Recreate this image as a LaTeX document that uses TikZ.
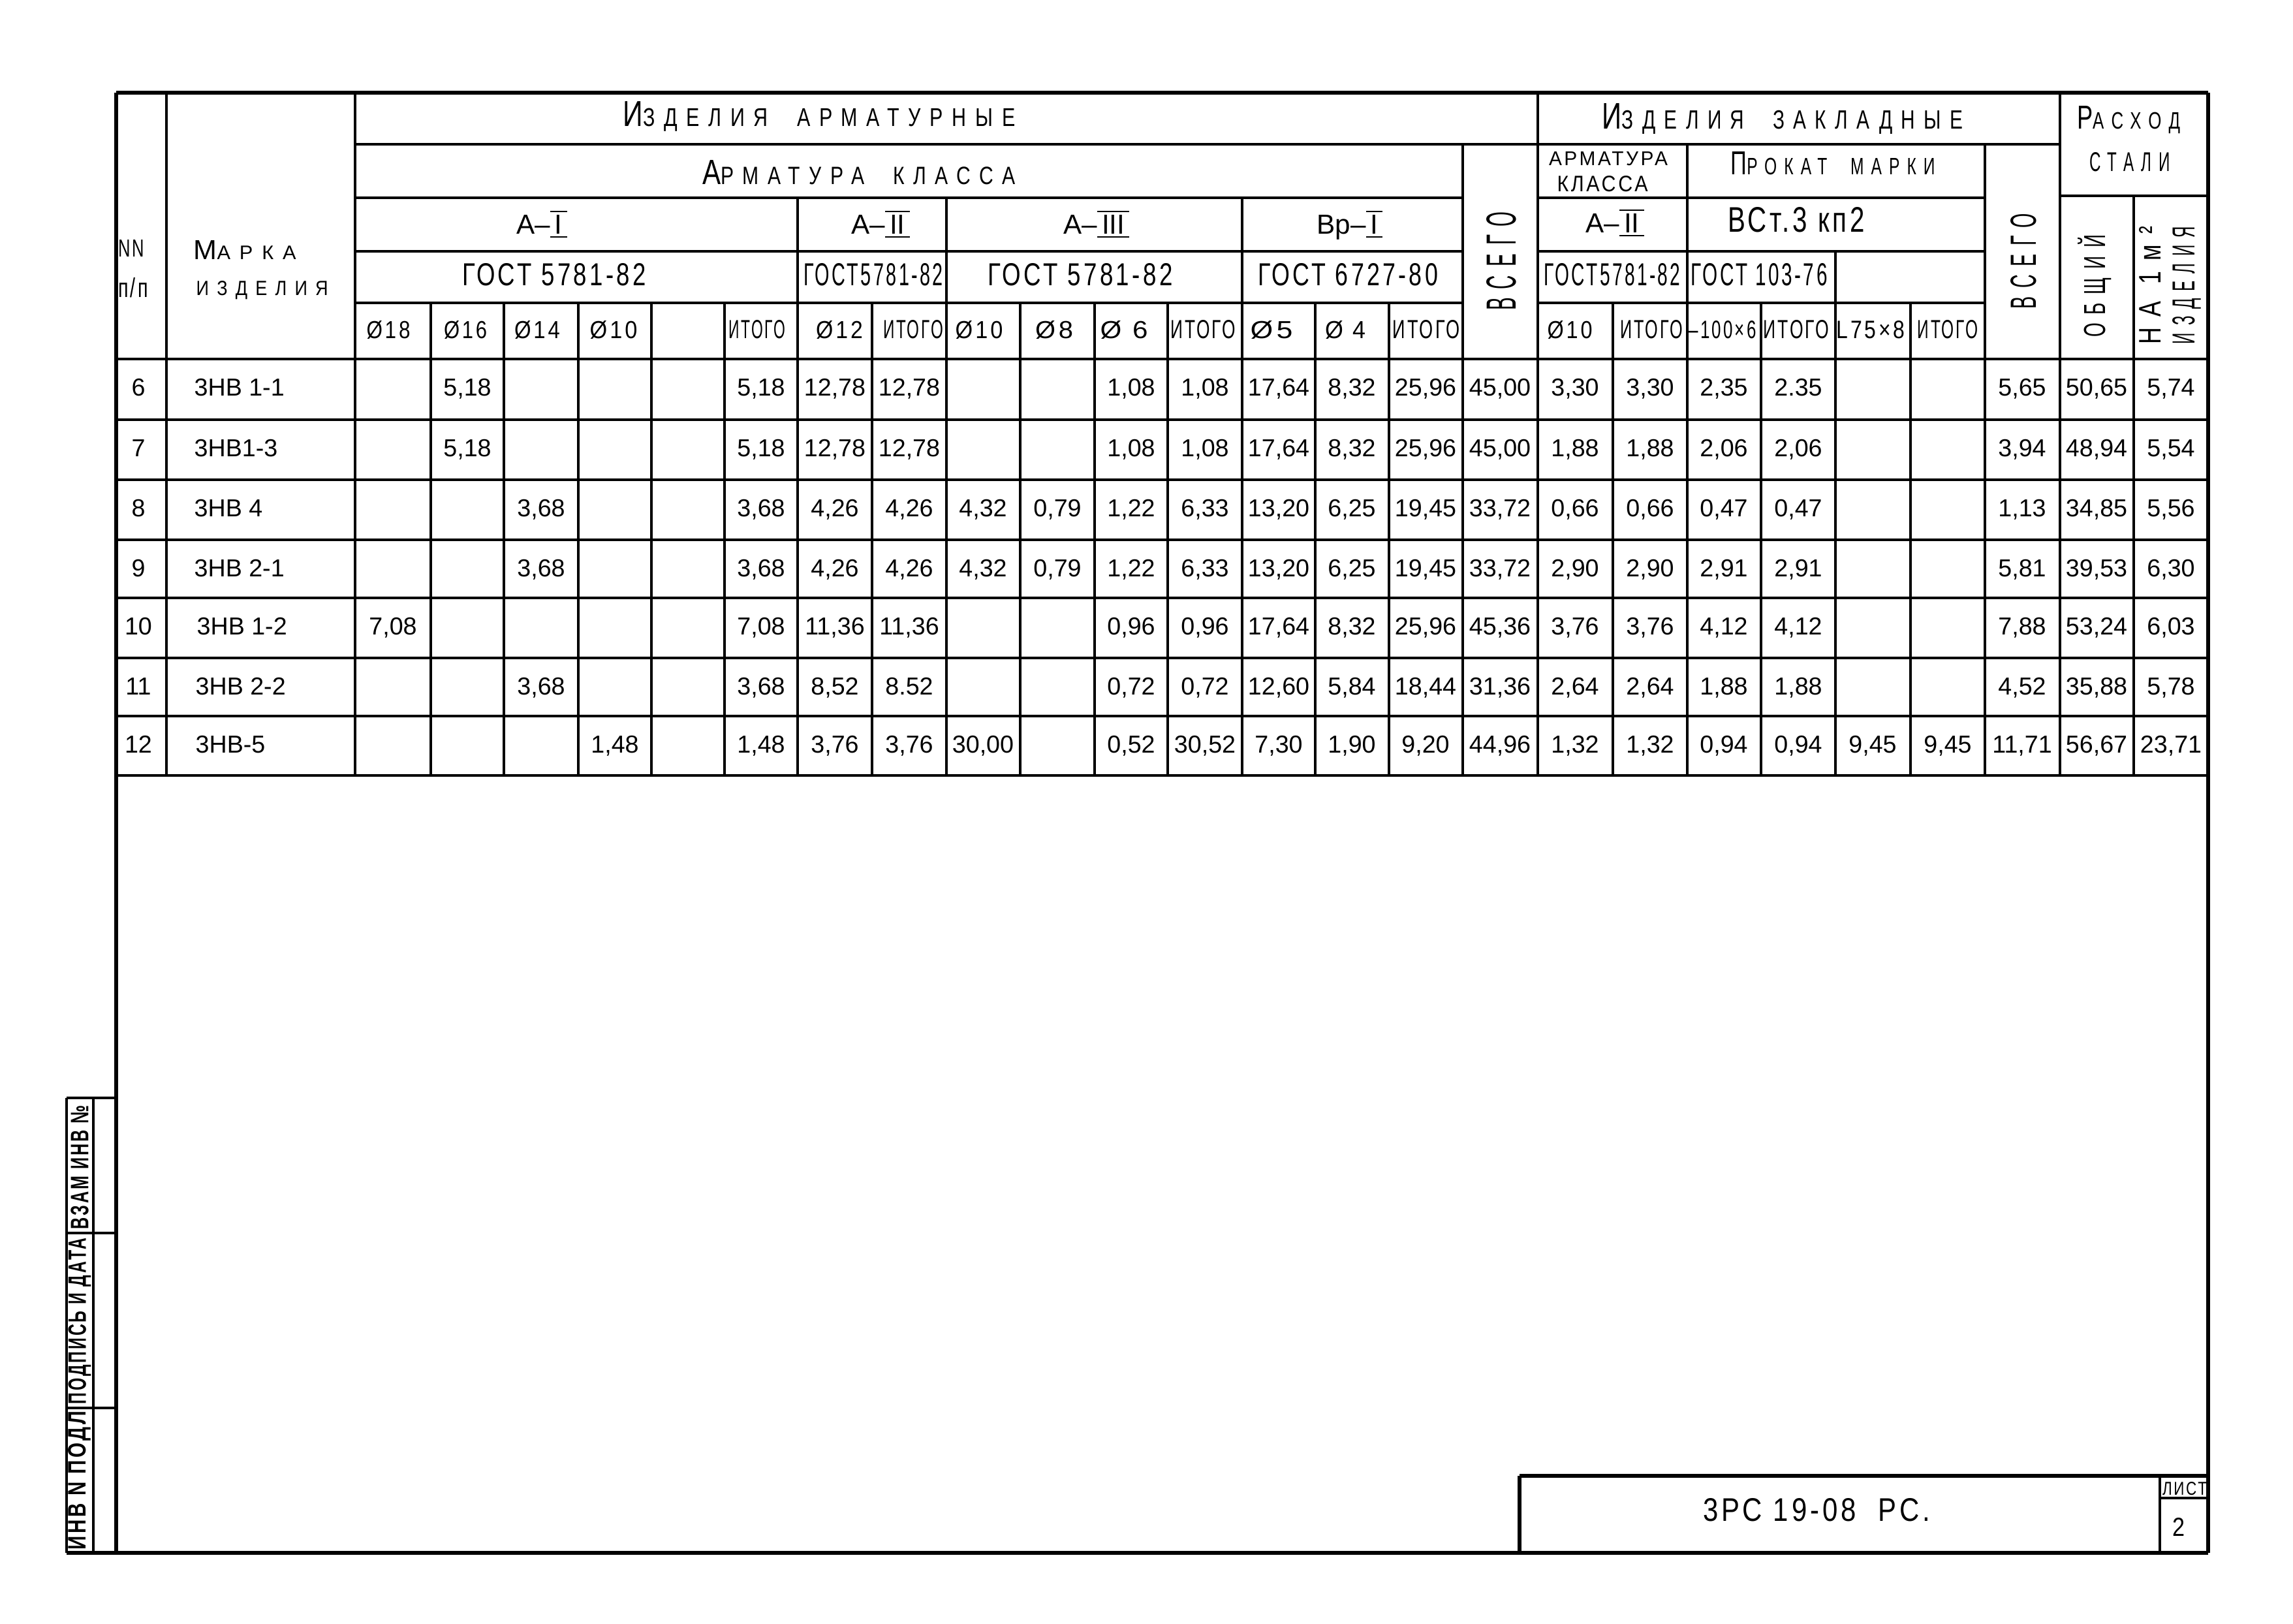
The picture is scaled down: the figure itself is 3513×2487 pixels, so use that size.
\documentclass[tikz,border=0pt]{standalone}
\usepackage{fontspec}
\usepackage{graphicx}
\setmainfont{Liberation Sans}
\newfontfamily\hdrfont[LetterSpace=12]{Liberation Sans}
\newfontfamily\widefont[LetterSpace=45]{Liberation Sans}
\newlength\px \setlength\px{0.01cm}
\newcommand\fitn[3]{\resizebox{#1\px}{#2\px}{\hdrfont #3}}
\newcommand\fitw[3]{\resizebox{#1\px}{#2\px}{\widefont #3}}
\newcommand\fitb[3]{\resizebox{#1\px}{#2\px}{\hdrfont\bfseries #3}}
\newcommand\B[1]{{\fontsize{14}{14}\selectfont #1}}
\newcommand\rn[1]{\ensuremath{\underline{\overline{\hbox{\,#1\,}}}}}
\def\colxs{{0,602,716,829,942,1054,1166,1279,1393,1506,1620,1733,1846,1959,2071,2184,2298,2413,2528,2641,2755,2869,2984,3098,3212,3326}}
\newcommand\dcell[3]{\pgfmathsetmacro\xx{\colxs[#2]}\node[dat] (r#1c#2) at (\xx,\rowy) {#3};}
\begin{document}
\begin{tikzpicture}[x=0.01cm,y=-0.01cm,
  grid/.style={line width=1.2pt},
  frame/.style={line width=1.5pt},
  lbl/.style={inner sep=0pt, anchor=base},
  lblw/.style={inner sep=0pt, anchor=base west},
  dat/.style={inner sep=0pt, anchor=base, font=\fontsize{10.7}{12}\selectfont},
  mk/.style={inner sep=0pt, anchor=base west, font=\fontsize{10.7}{12}\selectfont},
  cls/.style={inner sep=0pt, anchor=base, font=\fontsize{12}{14}\selectfont},
  vert/.style={inner sep=0pt, rotate=90},
]
\useasboundingbox (0,0) rectangle (3513,2487);
% ---------- frame ----------
\draw[frame] (178,142) -- (3383,142);
\draw[frame] (178,142) -- (178,2379);
\draw[frame] (3383,142) -- (3383,2379);
\draw[frame] (102,2379) -- (3383,2379);
% ---------- header grid ----------
\draw[grid] (544,221) -- (3156,221);
\draw[grid] (3156,300) -- (3383,300);
\foreach \y in {303,385,464} {\draw[grid] (544,\y) -- (2241,\y); \draw[grid] (2356,\y) -- (3041,\y);}
\foreach \y in {550,643,735,827,916,1008,1097,1188} \draw[grid] (178,\y) -- (3383,\y);
\foreach \x in {255,544,2356,3156} \draw[grid] (\x,142) -- (\x,1188);
\foreach \x in {2241,3041,2585} \draw[grid] (\x,221) -- (\x,1188);
\draw[grid] (3269,300) -- (3269,1188);
\foreach \x in {1222,1450,1903} \draw[grid] (\x,303) -- (\x,1188);
\draw[grid] (2812,385) -- (2812,1188);
\foreach \x in {660,772,886,998,1110,1336,1563,1677,1789,2015,2128,2471,2698,2927} \draw[grid] (\x,464) -- (\x,1188);
% ---------- stamp left ----------
\draw[grid] (102,1682) -- (102,2379);
\draw[grid] (143,1682) -- (143,2379);
\foreach \y in {1682,1889,2157} \draw[grid] (102,\y) -- (178,\y);
% ---------- title block ----------
\draw[frame] (2328,2261) -- (3383,2261);
\draw[frame] (2328,2261) -- (2328,2379);
\draw[grid] (3309,2261) -- (3309,2379);
\draw[grid] (3309,2295) -- (3383,2295);
% ---------- header texts ----------
\node[lbl] (nn) at (201,393) {\fitn{40}{26}{NN}};
\node[lbl] (pp) at (204,455) {\fitn{46}{30}{п/п}};
\node[lblw] (marka) at (296,397) {\fitw{157}{29}{\B{М}АРКА}};
\node[lblw] (izdm) at (300,452) {\fitw{202}{22}{ИЗДЕЛИЯ}};
\node[lbl] (izdarm) at (1255,193) {\fitw{601}{38}{\B{И}ЗДЕЛИЯ\ \ АРМАТУРНЫЕ}};
\node[lbl] (armkl) at (1316,282) {\fitw{479}{37}{\B{А}РМАТУРА\ \ КЛАССА}};
\node[lbl] (izdzak) at (2731,197) {\fitw{553}{39}{\B{И}ЗДЕЛИЯ\ \ ЗАКЛАДНЫЕ}};
\node[lbl] (rashod) at (3261,197) {\fitw{158}{35}{\B{Р}АСХОД}};
\node[lbl] (stali) at (3263,262) {\fitw{124}{29}{СТАЛИ}};
\node[lbl] (armkla) at (2464,253) {\fitn{182}{21}{АРМАТУРА}};
\node[lbl] (armklb) at (2455,293) {\fitn{139}{24}{КЛАССА}};
\node[lbl] (prokat) at (2808,267) {\fitw{313}{35}{\B{П}РОКАТ\ \ МАРКИ}};
\node[lbl] (vst) at (2752,355) {\fitn{209}{38}{ВСт.3 кп2}};
\node[cls] (aI) at (830,358) {А–\rn{I}};
\node[cls] (aII) at (1349,358) {А–\rn{II}};
\node[cls] (aIII) at (1680,358) {А–\rn{III}};
\node[cls] (bpI) at (2068,358) {Вр–\rn{I}};
\node[cls] (aIIz) at (2474,356) {А–\rn{II}};
\node[lbl] (g1) at (849,437) {\fitn{282}{34}{ГОСТ\ 5781-82}};
\node[lbl] (g2) at (1338,437) {\fitn{214}{34}{ГОСТ5781-82}};
\node[lbl] (g3) at (1655,437) {\fitn{283}{34}{ГОСТ\ 5781-82}};
\node[lbl] (g4) at (2065,437) {\fitn{276}{34}{ГОСТ\ 6727-80}};
\node[lbl] (g5) at (2470,437) {\fitn{209}{34}{ГОСТ5781-82}};
\node[lbl] (g6) at (2695,437) {\fitn{209}{34}{ГОСТ\ 103-76}};
\node[lbl] (d1) at (595,518) {\fitn{67}{27}{Ø18}};
\node[lbl] (d2) at (713,518) {\fitn{66}{27}{Ø16}};
\node[lbl] (d3) at (823,518) {\fitn{70}{27}{Ø14}};
\node[lbl] (d4) at (940,518) {\fitn{73}{27}{Ø10}};
\node[lbl] (t1) at (1160,518) {\fitn{87}{28}{ИТОГО}};
\node[lbl] (d5) at (1286,518) {\fitn{72}{27}{Ø12}};
\node[lbl] (t2) at (1399,518) {\fitn{92}{28}{ИТОГО}};
\node[lbl] (d6) at (1500,518) {\fitn{73}{27}{Ø10}};
\node[lbl] (d7) at (1615,518) {\fitn{58}{27}{Ø8}};
\node[lbl] (d8) at (1722,518) {\fitn{73}{27}{Ø\ 6}};
\node[lbl] (t3) at (1843,518) {\fitn{100}{28}{ИТОГО}};
\node[lbl] (d9) at (1948,518) {\fitn{65}{27}{Ø5}};
\node[lbl] (d10) at (2061,518) {\fitn{62}{27}{Ø\ 4}};
\node[lbl] (t4) at (2185,518) {\fitn{103}{28}{ИТОГО}};
\node[lbl] (d11) at (2405,518) {\fitn{69}{27}{Ø10}};
\node[lbl] (t5) at (2530,518) {\fitn{96}{28}{ИТОГО}};
\node[lbl] (d12) at (2639,518) {\fitn{103}{27}{–100×6}};
\node[lbl] (t6) at (2752,518) {\fitn{101}{28}{ИТОГО}};
\node[lbl] (d13) at (2866,518) {\fitn{105}{27}{L75×8}};
\node[lbl] (t7) at (2984,518) {\fitn{93}{28}{ИТОГО}};
\node[vert] (vs1) at (2300,400) {\fitw{150}{45}{ВСЕГО}};
\node[vert] (vs2) at (3100,400) {\fitw{146}{39}{ВСЕГО}};
\node[vert] (obsh) at (3209,438) {\fitw{157}{42}{ОБЩИЙ}};
\node[vert] (na1) at (3294,437) {\fitw{180}{33}{НА\ 1м²}};
\node[vert] (izd2) at (3350,437) {\fitw{180}{34}{ИЗДЕЛИЯ}};
% ---------- data ----------
\def\rowy{606}
\node[dat] (n6) at (212,\rowy) {6}; \node[mk] (m6) at (297,\rowy) {3НВ 1-1};
\dcell{6}{2}{5,18}\dcell{6}{6}{5,18}\dcell{6}{7}{12,78}\dcell{6}{8}{12,78}
\dcell{6}{11}{1,08}\dcell{6}{12}{1,08}\dcell{6}{13}{17,64}\dcell{6}{14}{8,32}\dcell{6}{15}{25,96}
\dcell{6}{16}{45,00}\dcell{6}{17}{3,30}\dcell{6}{18}{3,30}\dcell{6}{19}{2,35}\dcell{6}{20}{2.35}
\dcell{6}{23}{5,65}\dcell{6}{24}{50,65}\dcell{6}{25}{5,74}
\def\rowy{699}
\node[dat] (n7) at (212,\rowy) {7}; \node[mk] (m7) at (297,\rowy) {3НВ1-3};
\dcell{7}{2}{5,18}\dcell{7}{6}{5,18}\dcell{7}{7}{12,78}\dcell{7}{8}{12,78}
\dcell{7}{11}{1,08}\dcell{7}{12}{1,08}\dcell{7}{13}{17,64}\dcell{7}{14}{8,32}\dcell{7}{15}{25,96}
\dcell{7}{16}{45,00}\dcell{7}{17}{1,88}\dcell{7}{18}{1,88}\dcell{7}{19}{2,06}\dcell{7}{20}{2,06}
\dcell{7}{23}{3,94}\dcell{7}{24}{48,94}\dcell{7}{25}{5,54}
\def\rowy{791}
\node[dat] (n8) at (212,\rowy) {8}; \node[mk] (m8) at (297,\rowy) {3НВ 4};
\dcell{8}{3}{3,68}\dcell{8}{6}{3,68}\dcell{8}{7}{4,26}\dcell{8}{8}{4,26}\dcell{8}{9}{4,32}\dcell{8}{10}{0,79}
\dcell{8}{11}{1,22}\dcell{8}{12}{6,33}\dcell{8}{13}{13,20}\dcell{8}{14}{6,25}\dcell{8}{15}{19,45}
\dcell{8}{16}{33,72}\dcell{8}{17}{0,66}\dcell{8}{18}{0,66}\dcell{8}{19}{0,47}\dcell{8}{20}{0,47}
\dcell{8}{23}{1,13}\dcell{8}{24}{34,85}\dcell{8}{25}{5,56}
\def\rowy{883}
\node[dat] (n9) at (212,\rowy) {9}; \node[mk] (m9) at (297,\rowy) {3НВ 2-1};
\dcell{9}{3}{3,68}\dcell{9}{6}{3,68}\dcell{9}{7}{4,26}\dcell{9}{8}{4,26}\dcell{9}{9}{4,32}\dcell{9}{10}{0,79}
\dcell{9}{11}{1,22}\dcell{9}{12}{6,33}\dcell{9}{13}{13,20}\dcell{9}{14}{6,25}\dcell{9}{15}{19,45}
\dcell{9}{16}{33,72}\dcell{9}{17}{2,90}\dcell{9}{18}{2,90}\dcell{9}{19}{2,91}\dcell{9}{20}{2,91}
\dcell{9}{23}{5,81}\dcell{9}{24}{39,53}\dcell{9}{25}{6,30}
\def\rowy{972}
\node[dat] (n10) at (212,\rowy) {10}; \node[mk] (m10) at (301,\rowy) {3НВ 1-2};
\dcell{10}{1}{7,08}\dcell{10}{6}{7,08}\dcell{10}{7}{11,36}\dcell{10}{8}{11,36}
\dcell{10}{11}{0,96}\dcell{10}{12}{0,96}\dcell{10}{13}{17,64}\dcell{10}{14}{8,32}\dcell{10}{15}{25,96}
\dcell{10}{16}{45,36}\dcell{10}{17}{3,76}\dcell{10}{18}{3,76}\dcell{10}{19}{4,12}\dcell{10}{20}{4,12}
\dcell{10}{23}{7,88}\dcell{10}{24}{53,24}\dcell{10}{25}{6,03}
\def\rowy{1064}
\node[dat] (n11) at (212,\rowy) {11}; \node[mk] (m11) at (299,\rowy) {3НВ 2-2};
\dcell{11}{3}{3,68}\dcell{11}{6}{3,68}\dcell{11}{7}{8,52}\dcell{11}{8}{8.52}
\dcell{11}{11}{0,72}\dcell{11}{12}{0,72}\dcell{11}{13}{12,60}\dcell{11}{14}{5,84}\dcell{11}{15}{18,44}
\dcell{11}{16}{31,36}\dcell{11}{17}{2,64}\dcell{11}{18}{2,64}\dcell{11}{19}{1,88}\dcell{11}{20}{1,88}
\dcell{11}{23}{4,52}\dcell{11}{24}{35,88}\dcell{11}{25}{5,78}
\def\rowy{1153}
\node[dat] (n12) at (212,\rowy) {12}; \node[mk] (m12) at (299,\rowy) {3НВ-5};
\dcell{12}{4}{1,48}\dcell{12}{6}{1,48}\dcell{12}{7}{3,76}\dcell{12}{8}{3,76}\dcell{12}{9}{30,00}
\dcell{12}{11}{0,52}\dcell{12}{12}{30,52}\dcell{12}{13}{7,30}\dcell{12}{14}{1,90}\dcell{12}{15}{9,20}
\dcell{12}{16}{44,96}\dcell{12}{17}{1,32}\dcell{12}{18}{1,32}\dcell{12}{19}{0,94}\dcell{12}{20}{0,94}
\dcell{12}{21}{9,45}\dcell{12}{22}{9,45}\dcell{12}{23}{11,71}\dcell{12}{24}{56,67}\dcell{12}{25}{23,71}
% ---------- stamp texts ----------
\node[vert] (s1) at (122,1788) {\fitb{190}{27}{ВЗАМ ИНВ №}};
\node[vert] (s2) at (122,2024) {\fitb{255}{27}{ПОДПИСЬ И ДАТА}};
\node[vert] (s3) at (122,2268) {\fitb{212}{27}{ИНВ N ПОДЛ}};
% ---------- title block texts ----------
\node[lbl] (title) at (2783,2330) {\fitn{348}{35}{3РС\ 19-08\ \ РС.}};
\node[lbl] (list) at (3347,2290) {\fitn{68}{20}{ЛИСТ}};
\node[lbl] (sheet) at (3338,2353) {\fitn{19}{28}{2}};
\end{tikzpicture}
\end{document}
